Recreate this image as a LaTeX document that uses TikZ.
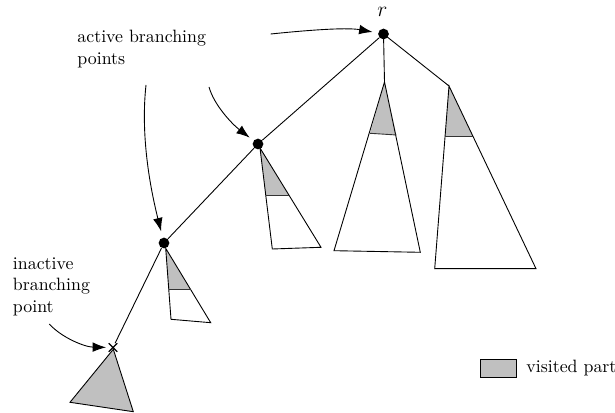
\documentclass[tikz,border=0pt]{standalone}
\usetikzlibrary{arrows.meta,shapes.misc}
\definecolor{visgray}{RGB}{192,192,192}
\begin{document}
\begin{tikzpicture}[x=0.56pt,y=-0.56pt,
  line width=0.5pt,
  bp/.style={circle,fill=black,inner sep=0pt,minimum size=6pt},
  xmark/.style={draw,cross out,inner sep=0pt,minimum size=4.2pt,line width=0.6pt},
  lab/.style={align=left,inner sep=0pt,anchor=west},
  ptr/.style={-{Latex[length=7.5pt,width=5.4pt]}},
  vis/.style={fill=visgray},
  divider/.style={draw=black!80}]
\useasboundingbox (0,0) rectangle (615,413);

% branching points
\node[bp] (r) at (383.5,34) {};
\node[bp] (b) at (258,144) {};
\node[bp] (c) at (164,243) {};
\node[xmark] (x) at (113,347.5) {};
\node[font=\large] (rl) at (382.5,12) {$r$};

% subtree apices
\coordinate (t2) at (384.5,82);
\coordinate (t3) at (449,86);

% tree edges
\draw (r) -- (b);
\draw (b) -- (c);
\draw (c) -- (x);
\draw (r.center) -- (t2);
\draw (r.center) -- (t3);

% subtree at b
\fill[vis] (260,148) -- (265.7,195) -- (288.9,195) -- cycle;
\draw (260,148) -- (272.3,249) -- (321,247.3) -- cycle;
\draw[divider] (265.7,195) -- (288.9,195);

% subtree at c
\fill[vis] (165.7,248.3) -- (168.8,289.3) -- (190.5,289.3) -- cycle;
\draw (165.7,248.3) -- (171,319.3) -- (210.7,322.7) -- cycle;
\draw[divider] (168.8,289.3) -- (190.5,289.3);

% middle subtree of r
\fill[vis] (t2) -- (370.1,133.3) -- (396.4,135) -- cycle;
\draw (t2) -- (334,250.7) -- (420.3,252.3) -- cycle;
\draw[divider] (370.1,133.3) -- (396.4,135);

% right subtree of r
\fill[vis] (t3) -- (445,136.7) -- (473.1,136.7) -- cycle;
\draw (t3) -- (434.7,268.7) -- (536,268.7) -- cycle;
\draw[divider] (445,136.7) -- (473.1,136.7);

% inactive subtree
\filldraw[fill=visgray] (113.3,349.3) -- (70,402.3) -- (133.3,411.7) -- cycle;

% labels
\node[lab] (act) at (77,49) {active branching\\points};
\node[lab] (inact) at (12.5,286.7) {inactive\\branching\\point};

% pointers
\coordinate (a1) at (270.7,34);
\coordinate (a2) at (209,87);
\coordinate (a3) at (146,85);
\coordinate (a4) at (49.3,324);
\draw[ptr,shorten >=3pt] (a1) .. controls (300,31) and (345,27) .. (r);
\draw[ptr,shorten >=2.6pt] (a2) .. controls (214,105) and (232,124) .. (b);
\draw[ptr,shorten >=3.5pt] (a3) .. controls (140,140) and (152,195) .. (c);
\draw[ptr,shorten >=1.5pt] (a4) .. controls (62,338) and (85,347) .. (x);

% legend
\node[draw,fill=visgray,inner sep=0pt,minimum width=20.2pt,minimum height=10.3pt] (lg) at (498,368.5) {};
\node[lab] (lgt) at (526,368.5) {visited part};
\end{tikzpicture}
\end{document}
